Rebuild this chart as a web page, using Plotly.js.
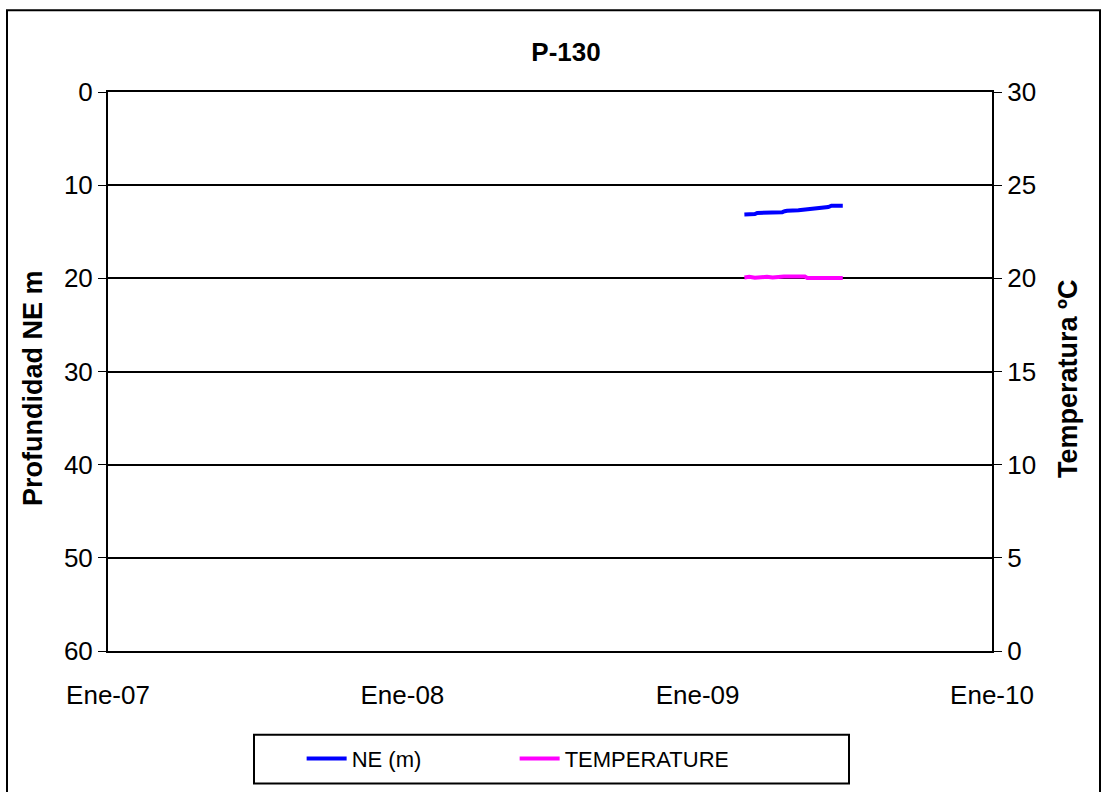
<!DOCTYPE html>
<html>
<head>
<meta charset="utf-8">
<script src="https://cdn.plot.ly/plotly-3.0.1.min.js"></script>
<style>html,body{margin:0;padding:0;background:#fff;}#chart{width:1104px;height:792px;}</style>
</head>
<body>
<div id="chart"></div>
<script>
const neDates = ["2009-02-28","2009-03-13","2009-03-16","2009-04-01","2009-04-16","2009-04-19","2009-04-22","2009-05-06","2009-05-17","2009-06-01","2009-06-12","2009-06-16","2009-06-30"];
const neValues = [13.15,13.1,12.98,12.95,12.9,12.8,12.75,12.7,12.6,12.45,12.35,12.2,12.2];
const tempDates = ["2009-02-28","2009-03-06","2009-03-13","2009-03-20","2009-03-28","2009-04-04","2009-04-11","2009-04-18","2009-05-01","2009-05-14","2009-05-17","2009-06-06","2009-06-30"];
const tempValues = [20.05,20.08,20.03,20.06,20.08,20.05,20.1,20.1,20.1,20.1,20.02,20.02,20.02];
const xTickVals = ["2007-01-01","2008-01-01","2009-01-01","2010-01-01"];
const xTickText = ["Ene-07","Ene-08","Ene-09","Ene-10"];
const depthTicks = [0,10,20,30,40,50,60];
const tempTicks = [0,5,10,15,20,25,30];
const leftTitle = "Profundidad NE m";
const rightTitle = "Temperatura ºC";

const F = "Arial, 'Liberation Sans', sans-serif";
const traces = [
  {x: neDates, y: neValues, name: "NE (m)", type: "scatter", mode: "lines",
   line: {color: "#0000FF", width: 4}, yaxis: "y"},
  {x: tempDates, y: tempValues, name: "TEMPERATURE", type: "scatter", mode: "lines",
   line: {color: "#FF00FF", width: 4}, yaxis: "y2"}
];
const layout = {
  width: 1104, height: 792,
  margin: {l: 108, r: 112, t: 92, b: 139},
  paper_bgcolor: "#fff", plot_bgcolor: "#fff",
  showlegend: true,
  title: {text: "<b>P-130</b>", font: {family: F, size: 26, color: "#000"}, x: (566-108)/884, xanchor: "center", y: 1 - 52/792, yanchor: "middle", xref: "paper"},
  xaxis: {type: "date", range: ["2007-01-01","2010-01-01"], tickvals: xTickVals, ticktext: xTickText,
    showgrid: false, zeroline: false, showline: true, linecolor: "#000", linewidth: 2, mirror: true,
    ticks: "", ticklabelstandoff: 20, tickfont: {family: F, size: 26, color: "#000"}},
  yaxis: {range: [60, 0], tickvals: depthTicks, showgrid: true, gridcolor: "#000", gridwidth: 2,
    zeroline: false, showline: true, linecolor: "#000", linewidth: 2, ticks: "outside", ticklen: 8, tickcolor: "#000",
    tickfont: {family: F, size: 26, color: "#000"}},
  yaxis2: {range: [0, 30], tickvals: tempTicks, overlaying: "y", side: "right", showgrid: false, zeroline: false,
    showline: true, linecolor: "#000", linewidth: 2, ticks: "outside", ticklen: 8, tickcolor: "#000",
    tickfont: {family: F, size: 26, color: "#000"}},
  annotations: [
    {text: "<b>" + leftTitle + "</b>", xref: "paper", yref: "paper", x: (33-108)/884, y: (653-389)/561,
     xanchor: "center", yanchor: "middle", textangle: -90, showarrow: false, font: {family: F, size: 27, color: "#000"}},
    {text: "<b>" + rightTitle + "</b>", xref: "paper", yref: "paper", x: (1068-108)/884, y: (653-380)/561,
     xanchor: "center", yanchor: "middle", textangle: -90, showarrow: false, font: {family: F, size: 27, color: "#000"}}
  ],
  legend: {orientation: "h", x: 0.46, xanchor: "center", y: -0.155, yanchor: "top",
    font: {family: F, size: 22, color: "#000"}, bgcolor: "rgba(0,0,0,0)", borderwidth: 0, entrywidth: 158, itemwidth: 40},
  shapes: [
    {type: "rect", xref: "paper", yref: "paper", x0: (7-108)/884, x1: (1100-108)/884, y0: -0.5, y1: (653-10)/561,
     line: {color: "#000", width: 2}, fillcolor: "rgba(0,0,0,0)", layer: "below"},
    {type: "rect", xref: "paper", yref: "paper", x0: (254-108)/884, x1: (849-108)/884, y0: (653-786)/561, y1: (653-737)/561,
     line: {color: "#000", width: 2}, fillcolor: "rgba(0,0,0,0)"}
  ]
};
Plotly.newPlot("chart", traces, layout, {displayModeBar: false, staticPlot: true});
</script>
</body>
</html>
